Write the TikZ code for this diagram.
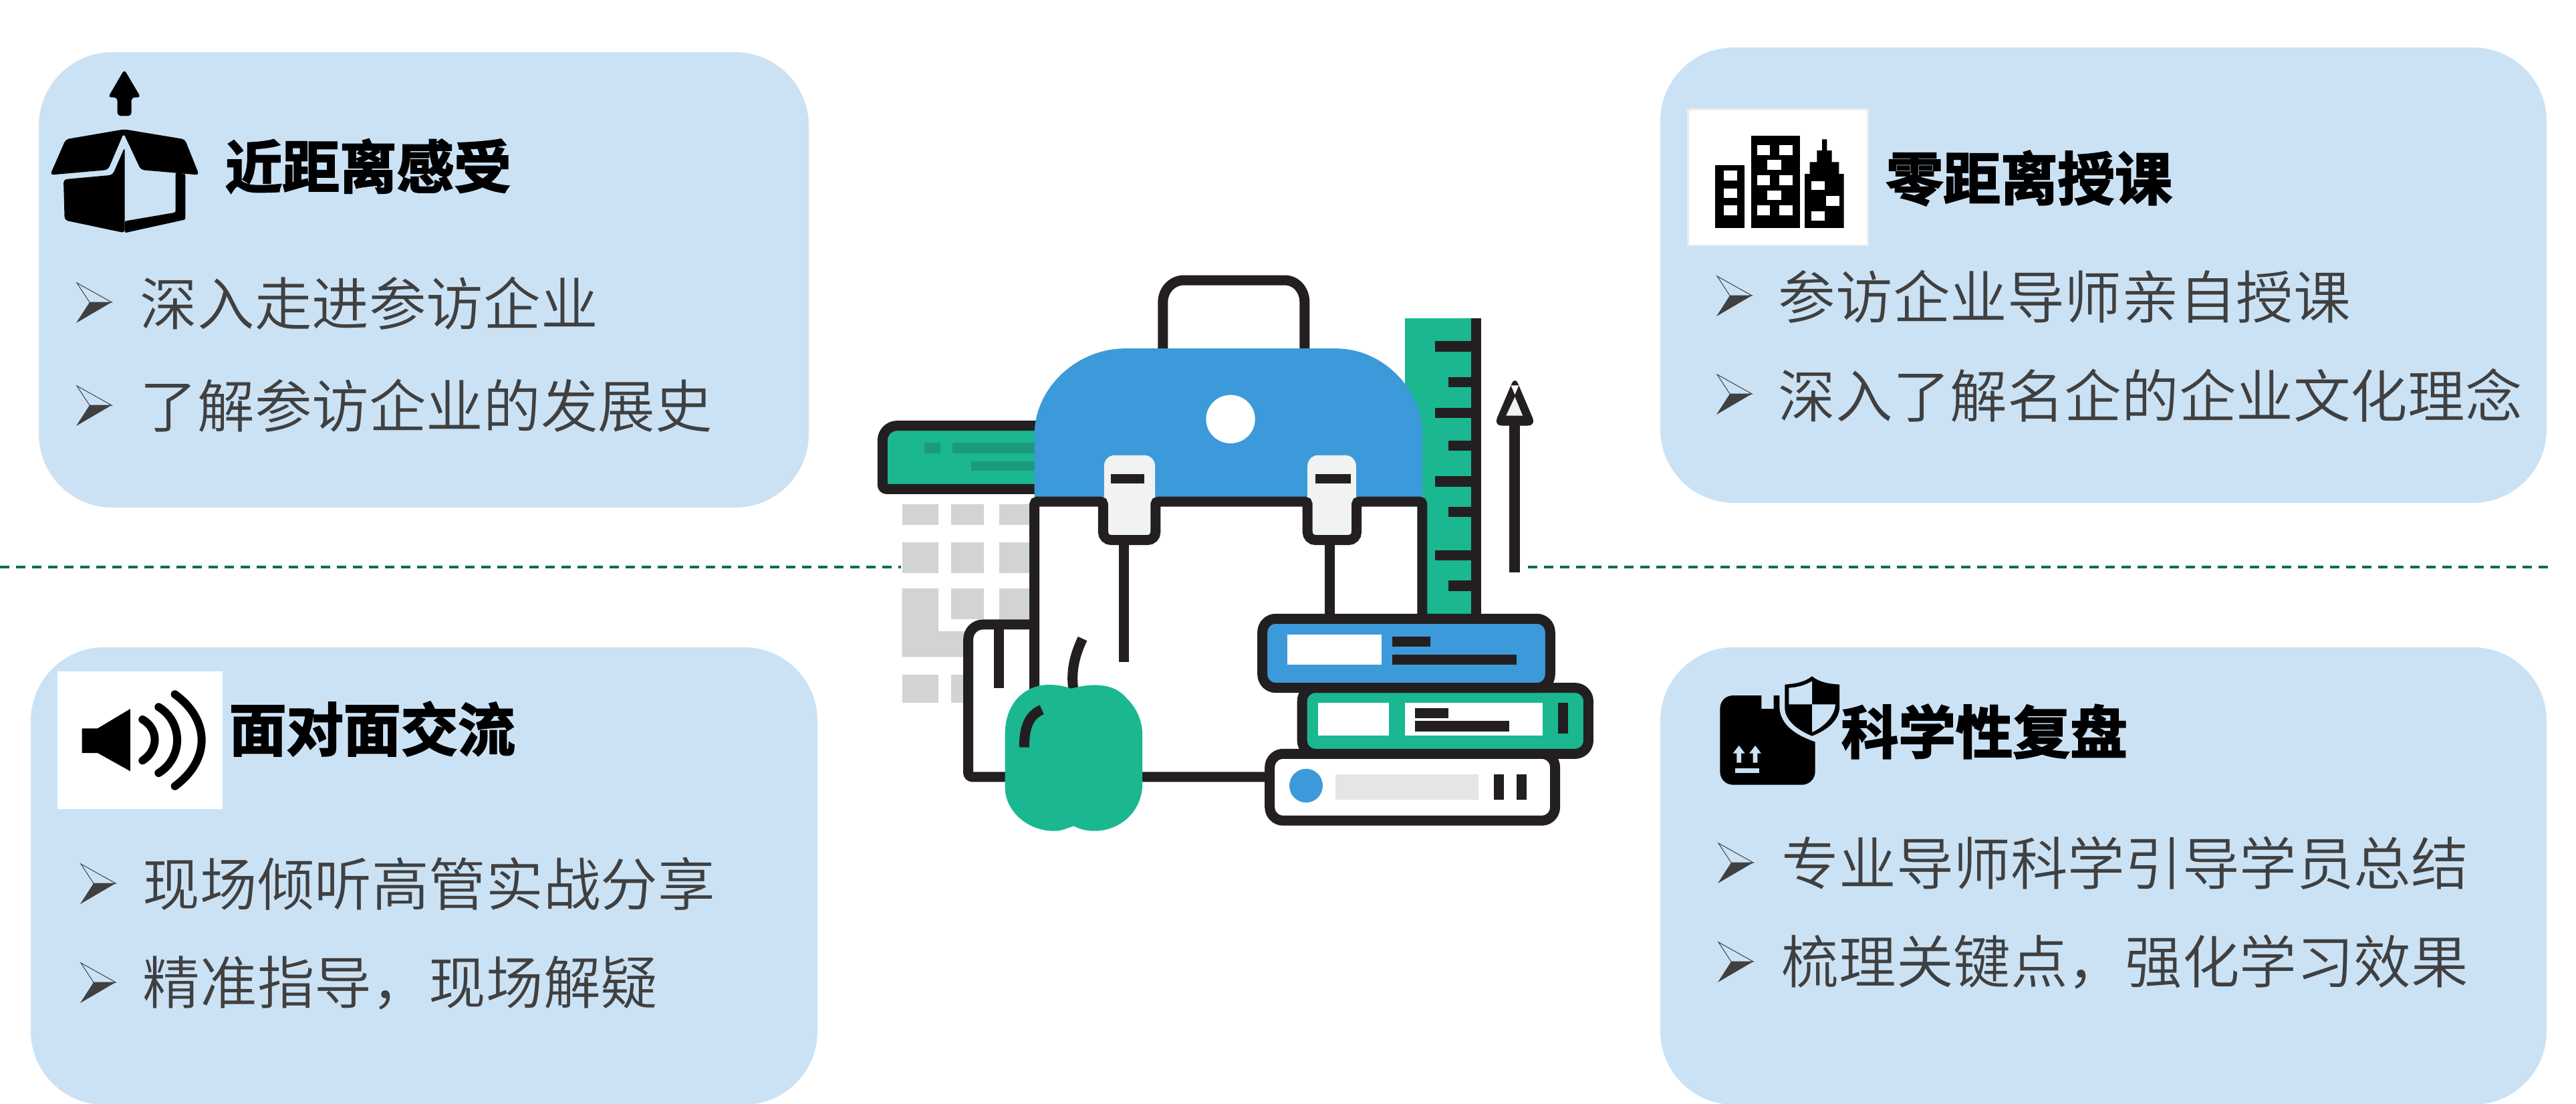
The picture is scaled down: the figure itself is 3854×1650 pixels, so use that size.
\documentclass[tikz,border=0pt]{standalone}
\usepackage{fontspec}
\usepackage{tikz}
\usetikzlibrary{calc}
\usetikzlibrary{positioning}
\newfontfamily\cjkbody{Noto Sans CJK SC DemiLight}
\newfontfamily\cjkhead[FakeBold=2.5]{Noto Sans CJK SC Bold}
\definecolor{cardblue}{HTML}{CBE2F5}
\definecolor{inkdark}{HTML}{231F20}
\definecolor{bagblue}{HTML}{3C9ADA}
\definecolor{bookgreen}{HTML}{1AB791}
\definecolor{darkgreen}{HTML}{1B9A7C}
\definecolor{paleblock}{HTML}{D1D3D4}
\definecolor{buckle}{HTML}{F1F2F2}
\definecolor{textgrey}{HTML}{404040}
\definecolor{dashgreen}{HTML}{076B5A}

\begin{document}
\begin{tikzpicture}[x=.25pt,y=-.25pt,
		cardbox/.style={fill=cardblue,rounded corners=27.5pt,anchor=north west,inner sep=0pt,outer sep=0pt},
		headtext/.style={anchor=west,inner sep=0pt,text=black,font=\cjkhead\fontsize{21.4}{24}\selectfont},
		listtext/.style={anchor=west,inner sep=0pt,text=textgrey,font=\cjkbody\fontsize{21.4}{24}\selectfont},
		inkline/.style={draw=inkdark,line width=3.75pt},
		icongrid/.style={x=.08333pt,y=-.08333pt},
		bullet/.pic={
			\fill[textgrey] (0,60) -- (53,29) -- (20,29) -- cycle;
			\draw[textgrey,line width=.25pt,line join=miter] (1,0) -- (53,29) -- (20,29) -- cycle;
		}]
	\useasboundingbox (0,0) rectangle (3854,1650);

	% cards
	\node (cardTL) [cardbox,minimum width=288pt,minimum height=170.25pt] at (58,78) {};
	\node (cardTR) [cardbox,minimum width=331.5pt,minimum height=170.25pt] at (2484,71) {};
	\node (cardBL) [cardbox,minimum width=294.25pt,minimum height=171pt] at (46,968) {};
	\node (cardBR) [cardbox,minimum width=331.5pt,minimum height=171pt] at (2484,968) {};

	% dashed middle line
	\coordinate (dashA) at (0,848);
	\coordinate (dashB) at (1348,848);
	\coordinate (dashC) at (2286,848);
	\coordinate (dashD) at (3812,848);
	\draw[dashgreen,line width=.8pt,dash pattern=on 3.5pt off 2.5pt] (dashA) -- (dashB);
	\draw[dashgreen,line width=.8pt,dash pattern=on 3.5pt off 2.5pt] (dashC) -- (dashD);

	% headings and lists
	\node (headTL) [headtext] at (336,248.5) {近距离感受};
	\node (headTR) [headtext] at (2821,266.5) {零距离授课};
	\node (headBL) [headtext] at (342,1090) {面对面交流};
	\node (headBR) [headtext] at (2754,1094) {科学性复盘};

	\node (itemTLa) [listtext] at (209,454) {深入走进参访企业};
	\node (itemTLb) [listtext] at (209,607) {了解参访企业的发展史};
	\node (itemTRa) [listtext] at (2660,444) {参访企业导师亲自授课};
	\node (itemTRb) [listtext] at (2660,591) {深入了解名企的企业文化理念};
	\node (itemBLa) [listtext] at (213,1322) {现场倾听高管实战分享};
	\node (itemBLb) [listtext] at (213,1470) {精准指导，现场解疑};
	\node (itemBRa) [listtext] at (2665,1291) {专业导师科学引导学员总结};
	\node (itemBRb) [listtext] at (2665,1439) {梳理关键点，强化学习效果};

	\foreach \px/\py in {114/423,114/577,2568/413,2568/560,120/1292,120/1440,2570/1261,2570/1409}
		\pic at (\px,\py) {bullet};

	% open box icon
	\begin{scope}[shift={(60,90)},icongrid]
		\fill[black,rounded corners=1.2pt] (378,42) -- (452,167) -- (410,167) -- (410,250) -- (347,250) -- (347,167) -- (305,167) -- cycle;
		\fill[black,rounded corners=1.2pt] (378,310) -- (650,355) -- (714,515) -- (452,492) -- (375,328) -- (305,492) -- (45,515) -- (115,355) -- cycle;
		\fill[black,rounded corners=1.2pt] (105,535) -- (325,515) -- (380,390) -- (380,775) -- (110,718) -- cycle;
		\fill[black,rounded corners=.6pt] (608,505) -- (652,510) -- (652,715) -- (380,775) -- (380,722) -- (608,683) -- cycle;
	\end{scope}

	% buildings icon
	\begin{scope}[shift={(2520,155)},icongrid]
		\draw[black!8,line width=.6pt,fill=white] (17,25) rectangle (824,636);
		\fill[black] (138,275) rectangle (270,558);
		\fill[black] (300,145) rectangle (518,558);
		\fill[black] (540,558) -- (540,315) -- (563,315) -- (563,262) -- (595,262) -- (595,210) -- (618,210) -- (618,160) -- (640,160) -- (640,210) -- (662,210) -- (662,262) -- (694,262) -- (694,315) -- (716,315) -- (716,558) -- cycle;
		\foreach \wy/\wz in {300/344,380/422,455/500}
			\fill[white] (177,\wy) rectangle (238,\wz);
		\foreach \wy/\wz in {186/232,322/366,455/500} {
			\fill[white] (328,\wy) rectangle (385,\wz);
			\fill[white] (425,\wy) rectangle (485,\wz);
		}
		\foreach \wy/\wz in {253/298,389/432}
			\fill[white] (373,\wy) rectangle (436,\wz);
		\fill[white] (570,348) rectangle (630,388);
		\fill[white] (636,414) rectangle (695,458);
		\fill[white] (570,483) rectangle (630,526);
	\end{scope}

	% speaker icon
	\begin{scope}[shift={(80,1000)},icongrid]
		\fill[white] (18,12) rectangle (759,630);
		\fill[black] (128,268) -- (198,268) -- (345,180) -- (345,460) -- (198,378) -- (128,378) -- cycle;
		\draw[black,line width=3pt,line cap=round] (400,228) .. controls (473,270) and (473,365) .. (400,412);
		\draw[black,line width=3pt,line cap=round] (472,172) .. controls (583,240) and (583,400) .. (472,468);
		\draw[black,line width=3pt,line cap=round] (545,115) .. controls (705,230) and (705,410) .. (545,527);
	\end{scope}

	% shield and parcel icon
	\begin{scope}[shift={(2560,1000)},icongrid]
		\fill[black] (100,120) -- (226,120) -- (226,180) -- (281,180) -- (281,120) -- (307,120) -- (307,175) .. controls (310,250) and (380,300) .. (467,328) -- (467,461) .. controls (467,495) and (440,521) .. (407,521) -- (100,521) .. controls (65,521) and (40,495) .. (40,461) -- (40,180) .. controls (40,145) and (65,120) .. (100,120) -- cycle;
		\fill[black] (453,34) .. controls (420,60) and (380,68) .. (331,71) -- (331,180) .. controls (335,240) and (400,280) .. (453,302) .. controls (510,280) and (570,240) .. (576,180) -- (576,71) .. controls (525,68) and (485,60) .. (453,34) -- cycle;
		\fill[cardblue] (453,56) .. controls (420,75) and (390,83) .. (349,86) -- (349,160) -- (453,160) -- cycle;
		\fill[cardblue] (453,160) -- (558,160) .. controls (555,210) and (510,260) .. (453,285) -- cycle;
		\foreach \ax in {125,198}
			\fill[cardblue] (\ax,345) -- (\ax+27,380) -- (\ax+10,380) -- (\ax+10,422) -- (\ax-10,422) -- (\ax-10,380) -- (\ax-27,380) -- cycle;
		\fill[cardblue] (107,448) rectangle (217,467);
	\end{scope}

	% school bag, books and the rest of the middle picture
	\begin{scope}[shift={(1280,380)},x=.18335pt,y=-.1435pt]
		% calendar
		\foreach \cy/\cz in {652/706,751/831} {
			\fill[paleblock] (95,\cy) rectangle (169,\cz);
			\fill[paleblock] (195,\cy) rectangle (262,\cz);
			\fill[paleblock] (293,\cy) rectangle (360,\cz);
		}
		\fill[paleblock] (195,871) rectangle (262,951);
		\fill[paleblock] (293,871) rectangle (360,951);
		\fill[paleblock] (95,871) -- (169,871) -- (169,983) -- (230,983) -- (230,1050) -- (95,1050) -- cycle;
		\fill[paleblock] (95,1096) rectangle (169,1169);
		\fill[paleblock] (195,1096) rectangle (230,1169);
		\draw[inkline,fill=bookgreen] (400,612) [rounded corners=1.5pt] -- (55,612) [rounded corners=5.5pt] -- (55,447) -- (400,447);
		\fill[darkgreen] (141,492) rectangle (173,519);
		\fill[darkgreen] (198,492) rectangle (370,519);
		\fill[darkgreen] (236,540) rectangle (365,564);

		% ruler
		\fill[bookgreen] (1121,167) rectangle (1256,945);
		\fill[inkdark] (1256,167) rectangle (1276,945);
		\foreach \ty/\tz in {226/254,400/427,578/606,772/798}
			\fill[inkdark] (1182,\ty) rectangle (1256,\tz);
		\foreach \ty/\tz in {321/347,486/512,659/685,850/878}
			\fill[inkdark] (1209,\ty) rectangle (1256,\tz);

		% handle
		\draw[inkline] (627,250) -- (627,125) .. controls (627,95) and (645,68) .. (670,68) -- (875,68) .. controls (900,68) and (916,95) .. (916,125) -- (916,250);

		% side pocket and bag body
		\fill[white] (230,965) rectangle (400,1362);
		\fill[white] (365,645) rectangle (1156,1362);
		\draw[inkline] (365,965) [rounded corners=5.5pt] -- (230,965) [rounded corners=1.5pt] -- (230,1362) -- (840,1362);
		\draw[inkline] (293,965) -- (293,1131);
		\fill[bagblue] (365,635) -- (365,470) .. controls (365,350) and (450,246) .. (550,246) -- (980,246) .. controls (1075,246) and (1156,350) .. (1156,470) -- (1156,635) -- cycle;
		\fill[white] (765,430) ellipse [x radius=50,y radius=63];
		\fill[buckle,rounded corners=4pt] (507,735) -- (507,524) -- (611,524) -- (611,735) -- cycle;
		\fill[buckle,rounded corners=4pt] (922,735) -- (922,524) -- (1021,524) -- (1021,735) -- cycle;
		\fill[inkdark] (521,573) rectangle (589,598);
		\fill[inkdark] (938,573) rectangle (1010,598);
		\draw[inkline] (365,1135) [rounded corners=1pt] -- (365,645) -- (505,645) [rounded corners=3pt] -- (505,745) -- (612,745) [rounded corners=1pt] -- (612,645) -- (922,645) [rounded corners=3pt] -- (922,745) -- (1022,745) [rounded corners=1pt] -- (1022,645) -- (1156,645) -- (1156,945);
		\draw[inkline] (548,745) -- (548,1063);
		\draw[inkline] (968,745) -- (968,945);

		% pencil
		\fill[inkdark] (1333,440) rectangle (1355,830);
		\fill[inkdark,rounded corners=3pt] (1345,318) -- (1388,447) -- (1302,447) -- cycle;
		\fill[buckle] (1327,421) -- (1361,421) -- (1345,372) -- cycle;
		\fill[white] (1337,342) -- (1353,342) -- (1345,366) -- cycle;

		% apple
		\draw[inkdark,line width=3.75pt] (444,1132) .. controls (440,1090) and (445,1050) .. (463,1002);
		\fill[bookgreen] (440,1132) .. controls (490,1115) and (530,1120) .. (555,1160) .. controls (575,1185) and (585,1220) .. (585,1250) -- (585,1390) .. controls (580,1460) and (535,1503) .. (487,1503) .. controls (470,1503) and (455,1497) .. (445,1490) .. controls (430,1497) and (420,1503) .. (405,1503) .. controls (350,1503) and (305,1450) .. (305,1390) -- (305,1250) .. controls (305,1170) and (345,1122) .. (395,1122) .. controls (410,1122) and (425,1125) .. (440,1132) -- cycle;
		\draw[inkdark,line width=3.75pt] (344,1285) .. controls (344,1230) and (355,1200) .. (380,1187);

		% books
		\draw[inkline,fill=white,rounded corners=5pt] (845,1302) rectangle (1427,1476);
		\fill[bagblue] (919,1385) ellipse [x radius=34,y radius=44];
		\fill[black!10] (979,1355) rectangle (1271,1422);
		\fill[inkdark] (1302,1355) rectangle (1323,1422);
		\fill[inkdark] (1348,1355) rectangle (1369,1422);
		\draw[inkline,fill=bookgreen,rounded corners=5pt] (911,1130) rectangle (1495,1302);
		\fill[white] (944,1169) rectangle (1088,1254);
		\fill[white] (1121,1169) rectangle (1402,1254);
		\fill[inkdark] (1141,1183) rectangle (1209,1209);
		\fill[inkdark] (1141,1216) rectangle (1333,1244);
		\fill[inkdark] (1433,1169) rectangle (1453,1249);
		\draw[inkline,fill=bagblue,rounded corners=5pt] (830,950) rectangle (1417,1130);
		\fill[white] (881,991) rectangle (1073,1070);
		\fill[inkdark] (1095,997) rectangle (1173,1023);
		\fill[inkdark] (1095,1044) rectangle (1348,1070);
	\end{scope}
\end{tikzpicture}
\end{document}
